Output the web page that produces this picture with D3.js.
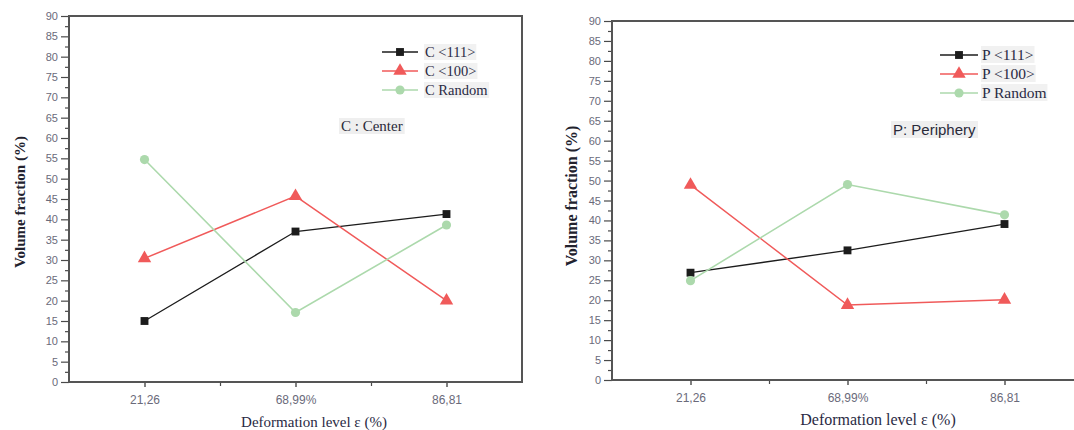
<!DOCTYPE html>
<html>
<head>
<meta charset="utf-8">
<script src="https://cdn.jsdelivr.net/npm/d3@7"></script>
<style>
  html, body { margin: 0; padding: 0; background: #ffffff; }
  svg { display: block; }
</style>
</head>
<body>
<svg id="chart" width="1074" height="430"></svg>
<script>
// Deformation levels (category labels on the x axis)
const categories = ["21,26", "68,99%", "86,81"];

// Center region: volume fraction (%) per texture component
const centerNames = ["C <111>", "C <100>", "C Random"];
const c111 = [15.0, 37.0, 41.3];
const c100 = [30.4, 45.7, 20.0];
const cRandom = [54.7, 17.1, 38.6];

// Periphery region: volume fraction (%) per texture component
const peripheryNames = ["P <111>", "P <100>", "P Random"];
const p111 = [26.9, 32.5, 39.1];
const p100 = [48.9, 18.8, 20.1];
const pRandom = [24.9, 49.0, 41.4];

// Axis ticks
const yMajorTicks = d3.range(0, 91, 5);
const yMinorTicks = d3.range(2.5, 90, 5);

const styles = [
  { color: "#1c1c1c", symbol: d3.symbolSquare, size: 62, width: 1.3 },
  { color: "#f05a5a", symbol: d3.symbolTriangle, size: 78, width: 1.5 },
  { color: "#acd9ac", symbol: d3.symbolCircle, size: 66, width: 1.6 }
];

const svg = d3.select("#chart");

// light backdrop behind a text node
function backdrop(g, textSel, pad, fill) {
  const bb = textSel.node().getBBox();
  g.insert("rect", () => textSel.node())
    .attr("x", bb.x - pad).attr("y", bb.y)
    .attr("width", bb.width + 2 * pad).attr("height", bb.height)
    .attr("fill", fill);
}

function drawPanel(cfg) {
  const g = svg.append("g");
  const x = d3.scaleLinear().domain([0.5, 3.5]).range([cfg.left, cfg.right]);
  const y = d3.scaleLinear().domain([0, 90]).range([cfg.bottom, cfg.top]);

  // y axis: labelled major ticks + minor ticks
  const yAx = g.append("g").attr("transform", `translate(${cfg.left},0)`)
    .call(d3.axisLeft(y).tickValues(yMajorTicks).tickSize(8).tickPadding(3));
  yAx.select(".domain").remove();
  yAx.selectAll("line").attr("stroke", "#4a4a4a").attr("stroke-width", 1.2);
  yAx.selectAll("text").attr("fill", "#6a6a7a")
    .style("font-family", "'Liberation Sans', Arial, sans-serif")
    .style("font-size", cfg.tickFont + "px");
  const yMin = g.append("g").attr("transform", `translate(${cfg.left},0)`)
    .call(d3.axisLeft(y).tickValues(yMinorTicks).tickSize(4).tickFormat(""));
  yMin.select(".domain").remove();
  yMin.selectAll("line").attr("stroke", "#4a4a4a").attr("stroke-width", 1.2);

  // x axis: category ticks + minor ticks between them
  const xAx = g.append("g").attr("transform", `translate(0,${cfg.bottom})`)
    .call(d3.axisBottom(x).tickValues([1, 2, 3]).tickFormat(i => categories[i - 1])
      .tickSize(5).tickPadding(8));
  xAx.select(".domain").remove();
  xAx.selectAll("line").attr("stroke", "#4a4a4a").attr("stroke-width", 1.4);
  xAx.selectAll("text").attr("fill", "#6a6a7a")
    .style("font-family", "'Liberation Sans', Arial, sans-serif")
    .style("font-size", cfg.xTickFont + "px");
  const xMin = g.append("g").attr("transform", `translate(0,${cfg.bottom})`)
    .call(d3.axisBottom(x).tickValues([1.5, 2.5]).tickSize(4).tickFormat(""));
  xMin.select(".domain").remove();
  xMin.selectAll("line").attr("stroke", "#4a4a4a").attr("stroke-width", 1.2);

  // plot frame
  g.append("rect")
    .attr("x", x(0.5)).attr("y", y(90))
    .attr("width", x(3.5) - x(0.5)).attr("height", y(0) - y(90))
    .attr("fill", "none").attr("stroke", "#555555").attr("stroke-width", 2);

  // series lines and markers
  const line = d3.line().x((d, i) => x(i + 1)).y(d => y(d));
  cfg.series.forEach((vals, k) => {
    const st = styles[k];
    g.append("path").datum(vals)
      .attr("d", line).attr("fill", "none")
      .attr("stroke", st.color).attr("stroke-width", st.width);
  });
  cfg.series.forEach((vals, k) => {
    const st = styles[k];
    g.selectAll(null).data(vals).enter().append("path")
      .attr("d", d3.symbol(st.symbol, st.size))
      .attr("transform", (d, i) => `translate(${x(i + 1)},${y(d)})`)
      .attr("fill", st.color);
  });

  // legend
  cfg.names.forEach((name, k) => {
    const st = styles[k];
    const ly = cfg.legend.y + k * cfg.legend.dy;
    const t = g.append("text")
      .attr("x", cfg.legend.textX).attr("y", ly + 5)
      .style("font-family", "'Liberation Serif', 'Times New Roman', serif")
      .style("font-size", cfg.legend.font + "px")
      .attr("fill", "#2a2a44")
      .text(name);
    backdrop(g, t, 1, "#f1f1f1");
    g.append("line")
      .attr("x1", cfg.legend.x1).attr("x2", cfg.legend.x2)
      .attr("y1", ly).attr("y2", ly)
      .attr("stroke", st.color).attr("stroke-width", st.width);
    g.append("path")
      .attr("d", d3.symbol(st.symbol, st.size))
      .attr("transform", `translate(${(cfg.legend.x1 + cfg.legend.x2) / 2},${ly})`)
      .attr("fill", st.color);
  });

  // region note
  const note = g.append("text")
    .attr("x", cfg.note.x).attr("y", cfg.note.y)
    .style("font-family", cfg.note.family)
    .style("font-size", cfg.note.font + "px")
    .attr("fill", "#2a2a3a")
    .text(cfg.note.text);
  backdrop(g, note, 2, "#efefef");

  // axis titles
  g.append("text")
    .attr("transform", `translate(${cfg.yTitle.x},${cfg.yTitle.y}) rotate(-90)`)
    .attr("text-anchor", "middle")
    .style("font-family", "'Liberation Serif', 'Times New Roman', serif")
    .style("font-weight", "bold")
    .style("font-size", cfg.yTitle.font + "px")
    .attr("fill", "#22222e")
    .text("Volume fraction (%)");
  g.append("text")
    .attr("x", cfg.xTitle.x).attr("y", cfg.xTitle.y)
    .attr("text-anchor", "middle")
    .style("font-family", "'Liberation Serif', 'Times New Roman', serif")
    .style("font-size", cfg.xTitle.font + "px")
    .attr("fill", "#2a2a44")
    .text("Deformation level ε (%)");
}

drawPanel({
  left: 69, right: 522, top: 16, bottom: 382, tickFont: 11, xTickFont: 12,
  series: [c111, c100, cRandom], names: centerNames,
  legend: { x1: 382, x2: 418, textX: 425, y: 52, dy: 19, font: 14.5 },
  note: { x: 341, y: 131, text: "C : Center", font: 15,
          family: "'Liberation Serif', 'Times New Roman', serif" },
  yTitle: { x: 25, y: 202, font: 15 },
  xTitle: { x: 314, y: 427, font: 15 }
});

drawPanel({
  left: 612, right: 1083, top: 21, bottom: 380, tickFont: 11, xTickFont: 12,
  series: [p111, p100, pRandom], names: peripheryNames,
  legend: { x1: 940, x2: 978, textX: 982, y: 55, dy: 19, font: 15.5 },
  note: { x: 893, y: 135, text: "P: Periphery", font: 15,
          family: "'Liberation Sans', Arial, sans-serif" },
  yTitle: { x: 577, y: 196, font: 16 },
  xTitle: { x: 878, y: 425, font: 16 }
});
</script>
</body>
</html>
